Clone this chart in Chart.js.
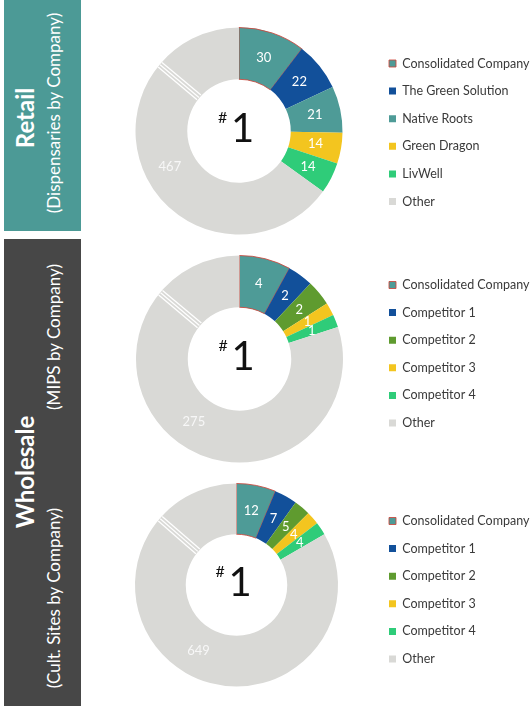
<!DOCTYPE html>
<html><head><meta charset="utf-8">
<script src="https://cdn.jsdelivr.net/npm/chart.js@4"></script>
<style>
html,body{margin:0;padding:0;background:#fff;overflow:hidden;width:532px;height:707px;position:relative;}
.panel{position:absolute;left:4px;width:77px;}
#retailPanel{top:0;height:231px;background:#4c9a96;}
#wholesalePanel{top:239px;height:467px;background:#474747;}
.vt{position:absolute;color:#fff;font-family:Lato,'Noto Sans',sans-serif;white-space:nowrap;transform:translate(-50%,-50%) rotate(-90deg);line-height:1;}
canvas{position:absolute;}
</style></head><body>
<div class="panel" id="retailPanel"></div>
<div class="panel" id="wholesalePanel"></div>
<div class="vt" style="left:25px;top:118px;font-size:24px;font-weight:bold">Retail</div>
<div class="vt" style="left:53px;top:113px;font-size:17px">(Dispensaries by Company)</div>
<div class="vt" style="left:25px;top:472px;font-size:24px;font-weight:bold">Wholesale</div>
<div class="vt" style="left:53px;top:337px;font-size:17px">(MIPS by Company)</div>
<div class="vt" style="left:53px;top:598px;font-size:17px">(Cult. Sites by Company)</div>
<canvas id="c1"></canvas>
<canvas id="c2"></canvas>
<canvas id="c3"></canvas>
<script>
// ---- data ----
const retailLabels = ['Consolidated Company','The Green Solution','Native Roots','Green Dragon','LivWell','Other'];
const retailValues = [30, 22, 21, 14, 14, 467];
// slice sizes as drawn: "Other" is shown on a broken (compressed) scale in the source
const retailPlotted = [30, 22, 21, 14, 14, 188];

const mipsLabels = ['Consolidated Company','Competitor 1','Competitor 2','Competitor 3','Competitor 4','Other'];
const mipsValues = [4, 2, 2, 1, 1, 275];
const mipsPlotted = [4, 2, 2, 1, 1, 40];

const cultLabels = ['Consolidated Company','Competitor 1','Competitor 2','Competitor 3','Competitor 4','Other'];
const cultValues = [12, 7, 5, 4, 4, 649];
const cultPlotted = [12, 7, 5, 4, 4, 160];

const centerText = ['#', '1'];

// ---- styles ----
const TEAL = '#4e9b97', BLUE = '#12509a', OLIVE = '#5f9b2f', YELLOW = '#f3c51f', GREEN = '#2fcc79', GRAY = '#d9d9d6';
const retailColors = [TEAL, BLUE, TEAL, YELLOW, GREEN, GRAY];
const wholesaleColors = [TEAL, BLUE, OLIVE, YELLOW, GREEN, GRAY];
const RED = 'rgba(205,70,60,0.85)';

function makeChart(id, labels, values, plotted, colors, g) {
  const X0 = 88, FS = 12.5, P = 27.6 - FS, BOX = 7;
  const mctx = document.createElement('canvas').getContext('2d');
  mctx.font = FS + 'px Lato';
  let tw = 0; labels.forEach(l => { tw = Math.max(tw, mctx.measureText(l).width); });
  const Lw = P + BOX + FS / 2 + tw + 10;
  const legendLeft = g.boxX - P;
  const exactW = legendLeft + Lw - X0;
  const W = Math.ceil(exactW);
  const padR = W - exactW;
  const padL = 2 * g.cx - legendLeft - X0;
  const cv = document.getElementById(id);
  cv.width = W; cv.height = g.H;
  cv.style.left = X0 + 'px'; cv.style.top = g.top + 'px';
  cv.style.width = W + 'px'; cv.style.height = g.H + 'px';

  const decorate = {
    id: 'decorate_' + id,
    afterDatasetsDraw(chart) {
      const ctx = chart.ctx;
      const arcs = chart.getDatasetMeta(0).data;
      const a0 = arcs[0];
      const cx = a0.x, cy = a0.y, ri = a0.innerRadius, ro = a0.outerRadius;
      // break marks on "Other"
      ctx.save();
      const ang = -Math.PI / 2 + g.breakDeg * Math.PI / 180;
      const ux = Math.cos(ang), uy = Math.sin(ang);
      const px = -uy, py = ux;
      ctx.strokeStyle = '#ffffff'; ctx.lineWidth = 1.3;
      [-3, 0, 3].forEach(o => {
        ctx.beginPath();
        ctx.moveTo(cx + ux * (ri + 0.5) + px * o, cy + uy * (ri + 0.5) + py * o);
        ctx.lineTo(cx + ux * (ro - 0.5) + px * o, cy + uy * (ro - 0.5) + py * o);
        ctx.stroke();
      });
      // value labels
      ctx.font = '13px Lato';
      ctx.textAlign = 'center'; ctx.textBaseline = 'middle';
      arcs.forEach((arc, i) => {
        const p = arc.tooltipPosition();
        ctx.fillStyle = i === arcs.length - 1 ? '#f7f7f7' : '#ffffff';
        ctx.fillText(String(values[i]), p.x, p.y);
      });
      // center "#1"
      ctx.fillStyle = '#111111';
      ctx.textAlign = 'left'; ctx.textBaseline = 'alphabetic';
      ctx.font = '40px Lato';
      ctx.fillText(centerText[1], cx - 8, cy + 11);
      ctx.font = '16px Lato';
      ctx.fillText(centerText[0], cx - 21, cy - 8);
      ctx.restore();
    }
  };

  const tH = g.tTop || g.tBot || 0;
  return new Chart(cv, {
    type: 'doughnut',
    data: {
      labels: labels,
      datasets: [{
        data: plotted,
        backgroundColor: colors,
        borderColor: labels.map((l, i) => i === 0 ? RED : '#ffffff'),
        borderWidth: labels.map((l, i) => i === 0 ? 1 : 0),
        hoverOffset: 0
      }]
    },
    options: {
      responsive: false,
      devicePixelRatio: 1,
      animation: false,
      cutout: '50%',
      layout: { padding: { left: padL, right: padR, top: g.A - g.top, bottom: g.top + g.H - g.B } },
      plugins: {
        tooltip: { enabled: false },
        title: {
          display: tH > 0, position: g.tTop ? 'top' : 'bottom', text: '',
          padding: 0, font: { size: tH || 1, lineHeight: 1 }
        },
        legend: {
          position: 'right', align: 'center',
          labels: {
            boxWidth: BOX, boxHeight: BOX, padding: P,
            font: { family: 'Lato', size: FS }, color: '#3a3a3a'
          }
        }
      }
    },
    plugins: [decorate]
  });
}

makeChart('c1', retailLabels, retailValues, retailPlotted, retailColors,
  { top: 0, H: 240, A: 27, B: 238, tBot: 3, cx: 239, boxX: 389, breakDeg: 310 });
makeChart('c2', mipsLabels, mipsValues, mipsPlotted, wholesaleColors,
  { top: 240, H: 230, A: 245, B: 463, tTop: 10, cx: 239.5, boxX: 389, breakDeg: 310 });
makeChart('c3', cultLabels, cultValues, cultPlotted, wholesaleColors,
  { top: 475, H: 232, A: 483, B: 697, tBot: 10, cx: 236.5, boxX: 389, breakDeg: 311 });
</script>
</body></html>
